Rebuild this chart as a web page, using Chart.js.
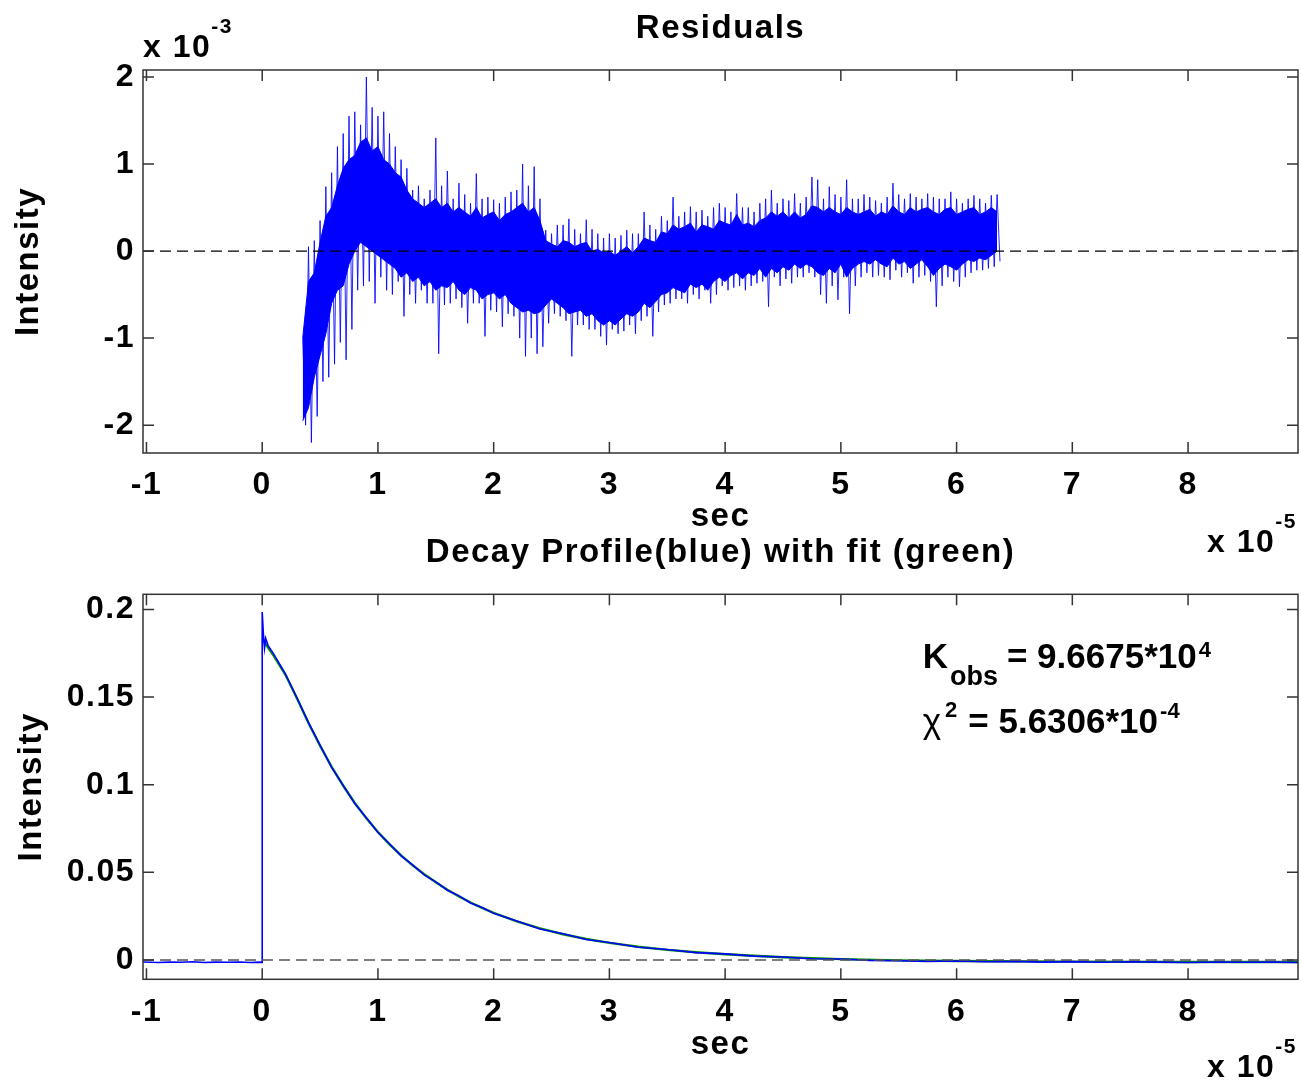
<!DOCTYPE html>
<html>
<head>
<meta charset="utf-8">
<script src="https://cdn.jsdelivr.net/npm/chart.js@4.4.0/dist/chart.umd.min.js"></script>
<style>
body { margin: 0; background: #fff; }
#wrapTop { position: absolute; left: 0; top: 0; width: 1301px; height: 565px; }
#wrapBot { position: absolute; left: 0; top: 530px; width: 1301px; height: 550px; }
</style>
</head>
<body>
<div id="wrapTop"><canvas id="residuals"></canvas></div>
<div id="wrapBot"><canvas id="decay"></canvas></div>
<script>
// axis ticks (x in units of 1e-5 s)
var xTicks = [-1, 0, 1, 2, 3, 4, 5, 6, 7, 8];
var resTicks = [-2, -1, 0, 1, 2];
var decayTicks = [0, 0.05, 0.1, 0.15, 0.2];
var xMin = -1.03, xMax = 8.95;

// residuals (units of 1e-3), read every 0.05 from 0.35
// resHi / resLo: tips of the spikes, coreHi / coreLo: edges of the dense band
var resStart = 0.35, resStep = 0.05;
var resHi = [-1.0, 0.05, 0.12, 0.35, 0.74, 0.9, 1.2, 1.35, 1.55, 1.6,
    1.45, 2.0, 1.65, 1.55, 1.6, 1.35, 1.2, 1.05, 0.95, 0.7,
    0.75, 0.6, 0.7, 1.3, 0.75, 0.92, 0.6, 0.78, 0.65, 0.55,
    0.89, 0.6, 0.62, 0.59, 0.55, 0.62, 0.68, 0.7, 1.0, 0.75,
    0.97, 0.6, 0.24, 0.2, 0.3, 0.3, 0.37, 0.25, 0.2, 0.36,
    0.25, 0.2, 0.15, 0.2, 0.15, 0.18, 0.24, 0.2, 0.2, 0.45,
    0.3, 0.25, 0.4, 0.35, 0.62, 0.4, 0.45, 0.51, 0.45, 0.47,
    0.4, 0.5, 0.55, 0.5, 0.45, 0.66, 0.5, 0.5, 0.45, 0.55,
    0.6, 0.7, 0.55, 0.6, 0.58, 0.66, 0.55, 0.62, 0.85, 0.82,
    0.6, 0.74, 0.65, 0.62, 0.82, 0.6, 0.6, 0.65, 0.62, 0.58,
    0.55, 0.62, 0.78, 0.65, 0.6, 0.66, 0.62, 0.6, 0.66, 0.62,
    0.6, 0.6, 0.68, 0.6, 0.55, 0.6, 0.64, 0.6, 0.55, 0.64, 0.65];
var resLo = [-2.0, -2.2, -1.9, -1.5, -1.45, -1.3, -1.05, -1.25, -0.9, -0.45,
    -0.4, -0.35, -0.6, -0.3, -0.45, -0.5, -0.35, -0.75, -0.5, -0.6,
    -0.45, -0.6, -0.6, -1.18, -0.62, -0.6, -0.55, -0.65, -0.83, -0.6,
    -0.6, -0.98, -0.68, -0.7, -0.87, -0.72, -0.75, -1.0, -1.21, -1.0,
    -1.18, -1.1, -0.83, -0.72, -0.75, -0.8, -1.21, -0.85, -0.85, -0.9,
    -0.9, -0.98, -1.08, -0.9, -0.95, -0.92, -0.85, -0.95, -0.8, -0.75,
    -0.98, -0.7, -0.62, -0.6, -0.55, -0.55, -0.6, -0.5, -0.55, -0.45,
    -0.6, -0.5, -0.4, -0.45, -0.42, -0.4, -0.45, -0.4, -0.37, -0.35,
    -0.64, -0.3, -0.4, -0.32, -0.37, -0.3, -0.3, -0.25, -0.3, -0.5,
    -0.6, -0.4, -0.56, -0.3, -0.72, -0.4, -0.3, -0.25, -0.3, -0.28,
    -0.3, -0.33, -0.22, -0.3, -0.25, -0.37, -0.3, -0.28, -0.35, -0.64,
    -0.4, -0.3, -0.35, -0.41, -0.3, -0.25, -0.22, -0.22, -0.2, -0.18, -0.12];
var coreHi = [-1.0, -0.35, -0.25, 0.1, 0.4, 0.5, 0.75, 0.95, 1.05, 1.1,
    1.25, 1.3, 1.15, 1.2, 1.05, 1.0, 0.9, 0.85, 0.7, 0.6,
    0.55, 0.5, 0.55, 0.6, 0.5, 0.55, 0.45, 0.5, 0.45, 0.4,
    0.5, 0.38, 0.42, 0.45, 0.35, 0.42, 0.45, 0.5, 0.55, 0.45,
    0.5, 0.35, 0.12, 0.08, 0.05, 0.12, 0.1, 0.05, 0.08, 0.1,
    0.0, 0.02, -0.02, 0.0, -0.05, 0.0, 0.05, -0.02, 0.05, 0.15,
    0.12, 0.1, 0.22, 0.2, 0.3, 0.25, 0.28, 0.32, 0.22, 0.3,
    0.28, 0.25, 0.35, 0.32, 0.3, 0.42, 0.3, 0.32, 0.28, 0.35,
    0.38, 0.45, 0.4, 0.45, 0.38, 0.45, 0.38, 0.42, 0.52, 0.5,
    0.45, 0.5, 0.45, 0.42, 0.5, 0.45, 0.42, 0.45, 0.48, 0.4,
    0.45, 0.42, 0.52, 0.45, 0.42, 0.5, 0.45, 0.48, 0.5, 0.45,
    0.42, 0.48, 0.5, 0.42, 0.45, 0.48, 0.5, 0.42, 0.45, 0.5, 0.45];
var coreLo = [-1.95, -1.8, -1.45, -1.2, -0.95, -0.6, -0.45, -0.4, -0.15, 0.0,
    0.1, 0.05, 0.0, -0.05, -0.1, -0.15, -0.2, -0.3, -0.25, -0.35,
    -0.3, -0.4, -0.35, -0.45, -0.4, -0.42, -0.35, -0.45, -0.5, -0.42,
    -0.45, -0.55, -0.5, -0.48, -0.55, -0.5, -0.6, -0.65, -0.7, -0.68,
    -0.72, -0.7, -0.62, -0.55, -0.6, -0.65, -0.72, -0.7, -0.68, -0.75,
    -0.72, -0.8, -0.85, -0.8, -0.85, -0.78, -0.72, -0.75, -0.7, -0.6,
    -0.65, -0.58, -0.5, -0.48, -0.42, -0.45, -0.48, -0.38, -0.42, -0.38,
    -0.45, -0.35, -0.3, -0.35, -0.28, -0.25, -0.32, -0.25, -0.28, -0.2,
    -0.3, -0.2, -0.25, -0.18, -0.22, -0.15, -0.2, -0.15, -0.18, -0.25,
    -0.28, -0.2, -0.25, -0.15, -0.3, -0.2, -0.15, -0.12, -0.15, -0.1,
    -0.15, -0.18, -0.08, -0.15, -0.12, -0.2, -0.15, -0.1, -0.18, -0.28,
    -0.2, -0.15, -0.18, -0.22, -0.15, -0.1, -0.12, -0.08, -0.1, -0.05, 0.0];

// fit (green)
var fitX = [0, 0.1, 0.2, 0.3, 0.4, 0.5, 0.6, 0.7, 0.8, 0.9, 1.0, 1.1, 1.2, 1.3, 1.4, 1.5, 1.6, 1.7, 1.8, 1.9,
    2.0, 2.2, 2.4, 2.6, 2.8, 3.0, 3.25, 3.5, 3.75, 4.0, 4.5, 5.0, 5.5, 6.0, 7.0, 8.0, 8.95];
var fitY = [0.183, 0.1735, 0.1628, 0.1493, 0.1352, 0.1222, 0.1102, 0.0994, 0.0896, 0.0808, 0.073, 0.066,
    0.0597, 0.054, 0.0489, 0.0443, 0.0401, 0.0363, 0.0328, 0.0297, 0.0269, 0.022, 0.018, 0.0147,
    0.012, 0.0098, 0.0076, 0.0058, 0.0044, 0.0033, 0.0016, 0.0005, -0.0002, -0.0006, -0.0009, -0.0011, -0.0011];

// measured decay profile (blue)
var decayX = [-1.03, -0.9, -0.8, -0.7, -0.6, -0.5, -0.4, -0.3, -0.2, -0.1, -0.02, 0, 0, 0.01, 0.02, 0.03, 0.05,
    0.1, 0.2, 0.3, 0.4, 0.5, 0.6, 0.7, 0.8, 0.9, 1.0, 1.1, 1.2, 1.3, 1.4, 1.5, 1.6, 1.7, 1.8, 1.9, 2.0,
    2.2, 2.4, 2.6, 2.8, 3.0, 3.25, 3.5, 3.75, 4.0, 4.25, 4.5, 4.75, 5.0, 5.25, 5.5, 5.75, 6.0, 6.25,
    6.5, 6.75, 7.0, 7.25, 7.5, 7.75, 8.0, 8.25, 8.5, 8.75, 8.95];
var decayY = [-0.0011, -0.0014, -0.0012, -0.0013, -0.001, -0.0014, -0.0012, -0.0013, -0.0011, -0.0014, -0.0012,
    -0.0013, 0.1985, 0.186, 0.178, 0.1835, 0.1795,
    0.1745, 0.1632, 0.1496, 0.1354, 0.1226, 0.1099, 0.0996, 0.0893, 0.0811, 0.0727, 0.0663, 0.0594, 0.0543,
    0.0486, 0.0446, 0.0398, 0.0366, 0.0325, 0.03, 0.0266, 0.0223, 0.0177, 0.015, 0.0117, 0.01, 0.0073,
    0.006, 0.0042, 0.0035, 0.0022, 0.0017, 0.0007, 0.0006, -0.0002, -0.0004, -0.0008, -0.0006, -0.001,
    -0.0008, -0.0012, -0.0009, -0.0013, -0.001, -0.0012, -0.0014, -0.0011, -0.0013, -0.0012, -0.0014];

var FONT = "'Liberation Sans', Arial, Helvetica, sans-serif";
Chart.defaults.font.family = FONT;
Chart.defaults.font.weight = 'bold';
Chart.defaults.color = '#000';
Chart.defaults.animation = false;

function fixedTicks(arr) {
    return function (scale) {
        scale.ticks = arr.map(function (v) { return {value: v}; });
    };
}

// the matlab text is a little wider than Arial at the same height
var spacingPlugin = {
    id: 'spacing',
    beforeDraw: function (chart) { chart.ctx.letterSpacing = '1.5px'; }
};

// matlab style box with inward ticks on all four sides
var boxPlugin = {
    id: 'box',
    afterDatasetsDraw: function (chart) {
        var ctx = chart.ctx, a = chart.chartArea, sx = chart.scales.x, sy = chart.scales.y;
        ctx.save();
        ctx.strokeStyle = '#333';
        ctx.lineWidth = 1.5;
        ctx.strokeRect(a.left, a.top, a.right - a.left, a.bottom - a.top);
        ctx.beginPath();
        sx.ticks.forEach(function (t) {
            var p = sx.getPixelForValue(t.value);
            ctx.moveTo(p, a.bottom); ctx.lineTo(p, a.bottom - 11);
            ctx.moveTo(p, a.top); ctx.lineTo(p, a.top + 11);
        });
        sy.ticks.forEach(function (t) {
            var p = sy.getPixelForValue(t.value);
            ctx.moveTo(a.left, p); ctx.lineTo(a.left + 11, p);
            ctx.moveTo(a.right, p); ctx.lineTo(a.right - 11, p);
        });
        ctx.stroke();
        ctx.restore();
    }
};

function drawExp(ctx, x, y, base, exp) {
    ctx.font = 'bold 32px ' + FONT;
    ctx.fillText(base, x, y);
    var w = ctx.measureText(base).width;
    ctx.font = 'bold 21px ' + FONT;
    ctx.fillText(exp, x + w, y - 24);
}

function axisOptions(yMin, yMax, yTicks, xHeight, xTickPad, xTitlePad, yTitlePad) {
    return {
        x: {
            type: 'linear', min: xMin, max: xMax,
            afterBuildTicks: fixedTicks(xTicks),
            afterFit: function (s) { s.height = xHeight; },
            grid: {display: false, drawTicks: false},
            border: {display: false},
            ticks: {font: {size: 32, weight: 'bold'}, padding: xTickPad, maxRotation: 0,
                callback: function (v) { return String(v); }},
            title: {display: true, text: 'sec', font: {size: 33, weight: 'bold', lineHeight: 1.2},
                padding: {top: 0, bottom: xTitlePad}}
        },
        y: {
            type: 'linear', min: yMin, max: yMax,
            afterBuildTicks: fixedTicks(yTicks),
            afterFit: function (s) { s.width = 143; },
            grid: {display: false, drawTicks: false},
            border: {display: false},
            ticks: {font: {size: 32, weight: 'bold'}, padding: 8,
                callback: function (v) { return String(v); }},
            title: {display: true, text: 'Intensity', font: {size: 33, weight: 'bold', lineHeight: 1.2},
                padding: {top: yTitlePad, bottom: 0}}
        }
    };
}

// top: residuals
var spikePts = [];
resHi.forEach(function (v, i) {
    var x = resStart + i * resStep;
    spikePts.push({x: x, y: v});
    spikePts.push({x: x + resStep / 2, y: resLo[i]});
});
var coreTop = coreHi.map(function (v, i) { return {x: resStart + i * resStep, y: v}; });
var coreBot = coreLo.map(function (v, i) { return {x: resStart + i * resStep, y: v}; });

new Chart(document.getElementById('residuals'), {
    type: 'line',
    data: {
        datasets: [
            {data: [{x: xMin, y: 0}, {x: xMax, y: 0}], borderColor: '#000', borderWidth: 1.2,
                borderDash: [11, 6], pointRadius: 0, fill: false},
            {data: spikePts, borderColor: 'rgba(0,0,255,0.85)', borderWidth: 1, pointRadius: 0, fill: false},
            {data: coreTop, borderColor: '#0000ff', borderWidth: 1, pointRadius: 0,
                backgroundColor: '#0000ff', fill: '+1'},
            {data: coreBot, borderColor: '#0000ff', borderWidth: 1, pointRadius: 0, fill: false}
        ]
    },
    options: {
        responsive: true,
        maintainAspectRatio: false,
        layout: {padding: {left: 0, right: 3, top: 0, bottom: 0}},
        plugins: {
            legend: {display: false},
            tooltip: {enabled: false},
            title: {display: true, fullSize: false, text: 'Residuals',
                font: {size: 33, weight: 'bold', lineHeight: 1.2}, padding: {top: 9, bottom: 21.4}}
        },
        scales: axisOptions(-2.32, 2.08, resTicks, 112, 13, 27.8, 9)
    },
    plugins: [spacingPlugin, boxPlugin, {
        id: 'expLabels',
        afterDraw: function (chart) {
            var ctx = chart.ctx, a = chart.chartArea;
            ctx.save();
            ctx.fillStyle = '#000';
            ctx.textBaseline = 'alphabetic';
            ctx.textAlign = 'left';
            drawExp(ctx, a.left, a.top - 13, 'x 10', '-3');
            drawExp(ctx, a.right - 91, a.bottom + 99, 'x 10', '-5');
            ctx.restore();
        }
    }]
});

// bottom: decay profile with fit
var fitPts = fitX.map(function (x, i) { return {x: x, y: fitY[i]}; });
var decayPts = decayX.map(function (x, i) { return {x: x, y: decayY[i]}; });

new Chart(document.getElementById('decay'), {
    type: 'line',
    data: {
        datasets: [
            {data: [{x: xMin, y: 0}, {x: xMax, y: 0}], borderColor: '#555', borderWidth: 1.5,
                borderDash: [11, 6], pointRadius: 0, fill: false},
            {data: decayPts, borderColor: '#0000ff', borderWidth: 1.6, pointRadius: 0, fill: false},
            {data: fitPts, borderColor: 'rgb(0,150,0)', borderWidth: 2.4, pointRadius: 0, fill: false}
        ]
    },
    options: {
        responsive: true,
        maintainAspectRatio: false,
        layout: {padding: {left: 0, right: 3, top: 0, bottom: 0}},
        plugins: {
            legend: {display: false},
            tooltip: {enabled: false},
            title: {display: true, fullSize: false, text: 'Decay Profile(blue) with fit (green)',
                font: {size: 33, weight: 'bold', lineHeight: 1.2}, padding: {top: 3.6, bottom: 21.1}}
        },
        scales: axisOptions(-0.011, 0.2086, decayTicks, 100.7, 14, 15.3, 12)
    },
    plugins: [spacingPlugin, boxPlugin, {
        id: 'fitText',
        afterDraw: function (chart) {
            var ctx = chart.ctx, a = chart.chartArea, sx = chart.scales.x, sy = chart.scales.y;
            ctx.save();
            ctx.fillStyle = '#000';
            ctx.textBaseline = 'alphabetic';
            ctx.textAlign = 'left';
            drawExp(ctx, a.right - 91, a.bottom + 97.7, 'x 10', '-5');

            ctx.letterSpacing = '0px';
            // K_obs line
            var x = sx.getPixelForValue(5.707), y = sy.getPixelForValue(0.1665);
            ctx.font = 'bold 35px ' + FONT;
            ctx.fillText('K', x, y);
            x += ctx.measureText('K').width + 2;
            ctx.font = 'bold 27px ' + FONT;
            ctx.fillText('obs', x, y + 17);
            x += ctx.measureText('obs').width + 9;
            ctx.font = 'bold 35px ' + FONT;
            ctx.fillText('= 9.6675*10', x, y);
            x += ctx.measureText('= 9.6675*10').width + 2;
            ctx.font = 'bold 22px ' + FONT;
            ctx.fillText('4', x, y - 11);

            // chi^2 line
            x = sx.getPixelForValue(5.707);
            y = sy.getPixelForValue(0.1294);
            ctx.font = '35px ' + FONT;
            ctx.fillText('\u03c7', x, y);
            x += ctx.measureText('\u03c7').width + 4;
            ctx.font = 'bold 22px ' + FONT;
            ctx.fillText('2', x, y - 16);
            x += ctx.measureText('2').width + 11;
            ctx.font = 'bold 35px ' + FONT;
            ctx.fillText('= 5.6306*10', x, y);
            x += ctx.measureText('= 5.6306*10').width + 2;
            ctx.font = 'bold 22px ' + FONT;
            ctx.fillText('-4', x, y - 15);
            ctx.restore();
        }
    }]
});
</script>
</body>
</html>
